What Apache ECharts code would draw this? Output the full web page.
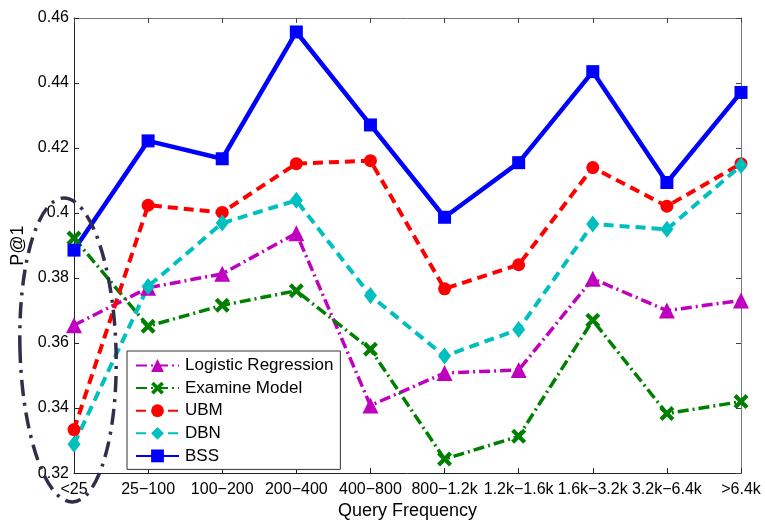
<!DOCTYPE html>
<html><head><meta charset="utf-8">
<script src="https://cdn.jsdelivr.net/npm/echarts@6/dist/echarts.min.js"></script>
<style>html,body{margin:0;padding:0;background:#fff}#c{width:765px;height:525px}</style>
</head><body><div id="c"></div>
<script>
const categories = ['<25','25\u2212100','100\u2212200','200\u2212400','400\u2212800','800\u22121.2k','1.2k\u22121.6k','1.6k\u22123.2k','3.2k\u22126.4k','>6.4k'];
const yMin = 0.32, yMax = 0.46, yStep = 0.02;
const logisticRegression = [0.3655, 0.3770, 0.3813, 0.3938, 0.3408, 0.3508, 0.3517, 0.3798, 0.3700, 0.3731];
const examineModel       = [0.3923, 0.3652, 0.3716, 0.3761, 0.3581, 0.3243, 0.3313, 0.3670, 0.3383, 0.3420];
const ubm                = [0.3334, 0.4024, 0.4002, 0.4152, 0.4161, 0.3767, 0.3841, 0.4140, 0.4021, 0.4152];
const dbn                = [0.3289, 0.3774, 0.3969, 0.4039, 0.3746, 0.3560, 0.3642, 0.3966, 0.3950, 0.4146];
const bss                = [0.3886, 0.4222, 0.4167, 0.4557, 0.4271, 0.3987, 0.4155, 0.4435, 0.4094, 0.4371];

const FONT = "'Liberation Sans', Arial, sans-serif";
const xSym = 'path://M0,2 L2,0 L5,3 L8,0 L10,2 L7,5 L10,8 L8,10 L5,7 L2,10 L0,8 L3,5 Z';

const chart = echarts.init(document.getElementById('c'), null, {renderer: 'canvas'});
chart.setOption({
  animation: false,
  backgroundColor: '#fff',
  grid: {left: 74, right: 24, top: 18, bottom: 48, containLabel: false},
  legend: {
    orient: 'vertical', left: 127, top: 351,
    padding: [6, 7, 5, 8],
    itemWidth: 43, itemHeight: 16, itemGap: 5.6,
    backgroundColor: '#fff', borderColor: '#333', borderWidth: 1,
    textStyle: {fontFamily: FONT, fontSize: 17, lineHeight: 16, color: '#000', padding: [0,0,0,1]},
    data: ['Logistic Regression','Examine Model','UBM','DBN','BSS']
  },
  xAxis: [{
    type: 'category', data: categories, boundaryGap: false,
    name: 'Query Frequency', nameLocation: 'middle', nameGap: 27,
    nameTextStyle: {fontFamily: FONT, fontSize: 18, color: '#000'},
    axisLine: {lineStyle: {color: '#222', width: 1}},
    axisTick: {inside: true, length: 5, alignWithLabel: true, lineStyle: {color: '#222'}},
    axisLabel: {interval: 0, fontFamily: FONT, fontSize: 16, color: '#000', margin: 8},
    splitLine: {show: false}
  }, {
    type: 'category', data: categories, boundaryGap: false, position: 'top',
    axisLine: {lineStyle: {color: '#777', width: 1}},
    axisTick: {inside: true, length: 5, lineStyle: {color: '#444'}},
    axisLabel: {show: false}, splitLine: {show: false}
  }],
  yAxis: [{
    type: 'value', min: yMin, max: yMax, interval: yStep,
    name: 'P@1', nameLocation: 'middle', nameGap: 46, nameRotate: 90,
    nameTextStyle: {fontFamily: FONT, fontSize: 18, color: '#000'},
    axisLine: {show: true, lineStyle: {color: '#222', width: 1}},
    axisTick: {show: true, inside: true, length: 5, lineStyle: {color: '#222'}},
    axisLabel: {fontFamily: FONT, fontSize: 16, color: '#000', margin: 5,
      formatter: v => String(+v.toFixed(2))},
    splitLine: {show: false}
  }, {
    type: 'value', min: yMin, max: yMax, interval: yStep, position: 'right',
    axisLine: {show: true, lineStyle: {color: '#777', width: 1}},
    axisTick: {show: true, inside: true, length: 5, lineStyle: {color: '#444'}},
    axisLabel: {show: false}, splitLine: {show: false}
  }],
  series: [
    {name: 'Logistic Regression', type: 'line', data: logisticRegression,
     symbol: 'triangle', symbolSize: 16, color: '#bf00bf',
     lineStyle: {width: 3.5, type: [11, 4, 2, 4]}, itemStyle: {color: '#bf00bf'}},
    {name: 'Examine Model', type: 'line', data: examineModel,
     symbol: xSym, symbolSize: 15, color: '#008000',
     lineStyle: {width: 3.5, type: [11, 4, 2, 4]}, itemStyle: {color: '#008000'}},
    {name: 'UBM', type: 'line', data: ubm,
     symbol: 'circle', symbolSize: 13, color: '#ff0000',
     lineStyle: {width: 4, type: [10, 6]}, itemStyle: {color: '#ff0000'}},
    {name: 'DBN', type: 'line', data: dbn,
     symbol: 'diamond', symbolSize: [13, 17], color: '#00bfbf',
     lineStyle: {width: 4, type: [10, 6]}, itemStyle: {color: '#00bfbf'}},
    {name: 'BSS', type: 'line', data: bss,
     symbol: 'rect', symbolSize: 13, color: '#0000ff',
     lineStyle: {width: 4.5, type: 'solid'}, itemStyle: {color: '#0000ff'}}
  ],
  graphic: [{
    type: 'ellipse', x: 68, y: 350, rotation: 0.03, z: 100,
    shape: {cx: 0, cy: 0, rx: 48, ry: 152},
    style: {fill: null, stroke: '#352c4c', lineWidth: 3.5, lineDash: [16, 7, 3, 7]},
    silent: true
  }]
});
</script></body></html>
